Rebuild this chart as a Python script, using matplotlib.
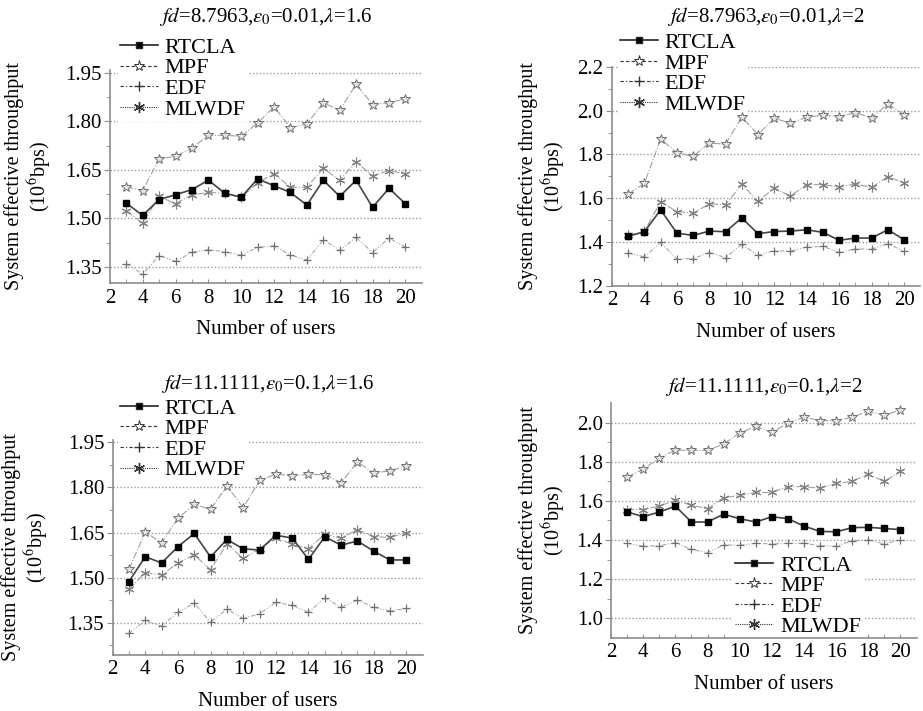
import numpy as np
import matplotlib.pyplot as plt
from matplotlib.lines import Line2D

plt.rcParams['font.family'] = ['Liberation Serif', 'DejaVu Serif']
plt.rcParams['mathtext.fontset'] = 'stix'

users = list(range(3, 21))

# panel 1: fd=8.7963, e0=0.01, lambda=1.6
rtcla_1 = [1.547, 1.509, 1.558, 1.573, 1.589, 1.618, 1.578, 1.565, 1.622,
           1.601, 1.580, 1.541, 1.618, 1.568, 1.618, 1.534, 1.593, 1.545]
mpf_1 = [1.598, 1.586, 1.684, 1.692, 1.717, 1.757, 1.757, 1.754, 1.795,
         1.845, 1.781, 1.792, 1.858, 1.834, 1.915, 1.852, 1.858, 1.870]
edf_1 = [1.360, 1.327, 1.385, 1.367, 1.395, 1.403, 1.397, 1.386, 1.410,
         1.415, 1.386, 1.371, 1.434, 1.401, 1.441, 1.394, 1.439, 1.411]
mlwdf_1 = [1.523, 1.485, 1.568, 1.545, 1.573, 1.580, 1.578, 1.565, 1.610,
           1.638, 1.596, 1.596, 1.655, 1.618, 1.675, 1.631, 1.648, 1.637]

# panel 2: fd=8.7963, e0=0.01, lambda=2
rtcla_2 = [1.426, 1.447, 1.547, 1.441, 1.430, 1.450, 1.447, 1.510, 1.438,
           1.448, 1.450, 1.456, 1.444, 1.408, 1.418, 1.418, 1.456, 1.411]
mpf_2 = [1.619, 1.668, 1.870, 1.808, 1.792, 1.852, 1.847, 1.970, 1.891,
         1.965, 1.943, 1.970, 1.979, 1.973, 1.991, 1.967, 2.030, 1.982]
edf_2 = [1.350, 1.332, 1.398, 1.323, 1.324, 1.352, 1.329, 1.389, 1.340,
         1.361, 1.358, 1.377, 1.380, 1.353, 1.368, 1.368, 1.392, 1.358]
mlwdf_2 = [1.430, 1.450, 1.584, 1.539, 1.532, 1.574, 1.571, 1.663, 1.586,
           1.646, 1.610, 1.662, 1.662, 1.652, 1.665, 1.649, 1.698, 1.671]

# panel 3: fd=11.1111, e0=0.1, lambda=1.6
rtcla_3 = [1.487, 1.570, 1.549, 1.603, 1.647, 1.569, 1.627, 1.596, 1.592,
           1.641, 1.632, 1.561, 1.636, 1.608, 1.622, 1.588, 1.559, 1.559]
mpf_3 = [1.528, 1.652, 1.616, 1.697, 1.744, 1.727, 1.805, 1.733, 1.823,
         1.844, 1.839, 1.843, 1.842, 1.816, 1.884, 1.848, 1.855, 1.872]
edf_3 = [1.315, 1.358, 1.339, 1.385, 1.416, 1.352, 1.396, 1.365, 1.380,
         1.418, 1.409, 1.385, 1.433, 1.402, 1.426, 1.402, 1.390, 1.398]
mlwdf_3 = [1.462, 1.517, 1.509, 1.549, 1.576, 1.527, 1.612, 1.564, 1.596,
           1.632, 1.611, 1.596, 1.645, 1.631, 1.660, 1.636, 1.634, 1.649]

# panel 4: fd=11.1111, e0=0.1, lambda=2
rtcla_4 = [1.544, 1.519, 1.543, 1.573, 1.492, 1.492, 1.532, 1.509, 1.492,
           1.519, 1.509, 1.471, 1.444, 1.442, 1.463, 1.465, 1.459, 1.453]
mpf_4 = [1.721, 1.762, 1.819, 1.860, 1.858, 1.858, 1.892, 1.947, 1.981,
         1.950, 1.998, 2.028, 2.011, 2.011, 2.028, 2.059, 2.037, 2.066]
edf_4 = [1.383, 1.368, 1.371, 1.386, 1.352, 1.335, 1.375, 1.373, 1.383,
         1.380, 1.383, 1.383, 1.371, 1.368, 1.397, 1.400, 1.380, 1.400]
mlwdf_4 = [1.556, 1.556, 1.573, 1.604, 1.578, 1.560, 1.616, 1.628, 1.643,
           1.643, 1.673, 1.673, 1.665, 1.689, 1.700, 1.736, 1.700, 1.751]

titles = [r'$fd$=8.7963,$\varepsilon_0$=0.01,$\lambda$=1.6',
          r'$fd$=8.7963,$\varepsilon_0$=0.01,$\lambda$=2',
          r'$fd$=11.1111,$\varepsilon_0$=0.1,$\lambda$=1.6',
          r'$fd$=11.1111,$\varepsilon_0$=0.1,$\lambda$=2']
series = [(rtcla_1, mpf_1, edf_1, mlwdf_1), (rtcla_2, mpf_2, edf_2, mlwdf_2),
          (rtcla_3, mpf_3, edf_3, mlwdf_3), (rtcla_4, mpf_4, edf_4, mlwdf_4)]
names = ['RTCLA', 'MPF', 'EDF', 'MLWDF']

# layout per panel: axes rect, ylim, yticks, title y, ylabel x, legend anchor
rects = [[0.119, 0.602, 0.338, 0.300], [0.663, 0.598, 0.334, 0.308],
         [0.122, 0.079, 0.336, 0.302], [0.662, 0.103, 0.331, 0.330]]
ylims = [(1.30, 1.96), (1.2, 2.2), (1.244, 1.957), (0.9, 2.1)]
yticks = [[1.35, 1.50, 1.65, 1.80, 1.95], [1.2, 1.4, 1.6, 1.8, 2.0, 2.2],
          [1.35, 1.50, 1.65, 1.80, 1.95], [1.0, 1.2, 1.4, 1.6, 1.8, 2.0]]
yfmt = ['%.2f', '%.1f', '%.2f', '%.1f']
title_y = [1.25, 1.23, 1.265, 1.07]
ylab_x = [-0.178, -0.143, -0.198, -0.14]
leg_anchor = [(0.026, 1.162), (0.02, 1.167), (0.016, 1.206), (0.40, 0.362)]

gray = '#8c8c8c'
fig = plt.figure(figsize=(9.23, 7.11), dpi=100)

for k in range(4):
    ax = fig.add_axes(rects[k])
    rt, mp, ed, ml = series[k]
    ax.plot(users, mp, color='#a0a0a0', lw=0.8, ls='-.', marker='*', ms=7.5,
            mfc='#e4e4e4', mec='#707070', mew=0.7, zorder=3)
    ax.plot(users, ed, color='#a8a8a8', lw=0.8, ls=(0, (4, 1.5, 1, 1.5, 1, 1.5)),
            marker='+', ms=6, mec='#707070', mew=0.9, zorder=3)
    ax.plot(users, ml, color='#a0a0a0', lw=0.8, ls='-.', marker=(6, 2, 0), ms=7,
            mec='#808080', mew=0.8, zorder=3)
    ax.plot(users, rt, color='#444444', lw=1.2, marker='s', ms=5,
            mfc='black', mec='black', zorder=4)

    ax.set_xlim(2, 21)
    ax.set_ylim(*ylims[k])
    ax.set_xticks(range(2, 21, 2))
    ax.set_xticks(range(3, 21, 2), minor=True)
    ax.set_yticks(yticks[k])
    ax.set_yticklabels([yfmt[k] % v for v in yticks[k]])
    yt = yticks[k]
    step = yt[1] - yt[0]
    ax.set_yticks([v + step / 2 for v in [yt[0] - step] + yt
                   if ylims[k][0] < v + step / 2 < ylims[k][1]], minor=True)
    for v in yt:
        ax.axhline(v, color='#9a9a9a', lw=1.0, ls=(0, (1, 1.5)), zorder=1)

    for s in ['top', 'right']:
        ax.spines[s].set_visible(False)
    for s in ['left', 'bottom']:
        ax.spines[s].set_color(gray)
        ax.spines[s].set_linewidth(1.2)
    ax.tick_params(axis='both', which='both', colors=gray, labelcolor='black',
                   labelsize=15)
    ax.tick_params(axis='x', which='both', direction='in', length=3, pad=4)
    ax.tick_params(axis='y', which='major', direction='out', length=4, pad=2)
    ax.tick_params(axis='y', which='minor', direction='out', length=3)

    ax.text(0.5, title_y[k], titles[k], transform=ax.transAxes, ha='center',
            va='center', fontsize=15)
    ax.set_xlabel('Number of users', fontsize=15, labelpad=9)
    ax.set_ylabel('System effective throughput\n(10$^6$bps)', fontsize=14.5,
                  linespacing=1.1)
    ax.yaxis.set_label_coords(ylab_x[k], 0.5)

    handles = [
        Line2D([], [], color='#222222', lw=1.2, marker='s', ms=5, mfc='black'),
        Line2D([], [], color='#333333', lw=0.8, ls=(0, (3, 2)), marker='*', ms=8,
               mfc='white', mec='#333333', mew=0.7),
        Line2D([], [], color='#333333', lw=0.8, ls=(0, (3, 2, 1, 2)), marker='+',
               ms=7, mec='#333333'),
        Line2D([], [], color='#333333', lw=0.8, ls=(0, (1, 1)), marker=(6, 2, 0),
               ms=8, mec='#333333'),
    ]
    leg = ax.legend(handles, names, loc='upper left', bbox_to_anchor=leg_anchor[k],
                    fontsize=16, frameon=True, facecolor='white', edgecolor='none',
                    framealpha=1, fancybox=False, borderpad=0.1, labelspacing=0.0,
                    handlelength=1.7, handletextpad=0.3, borderaxespad=0)
    leg.set_zorder(2)

fig.savefig('out.png', dpi=100)
